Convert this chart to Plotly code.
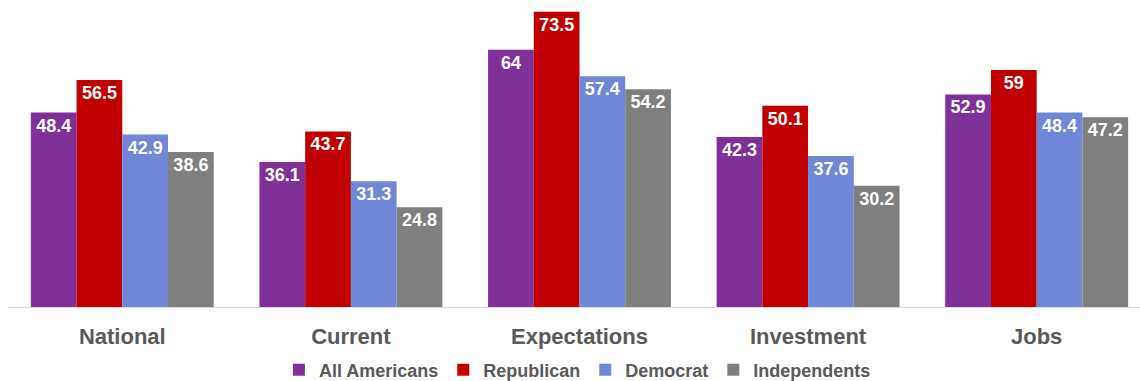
import plotly.graph_objects as go

categories = ["National", "Current", "Expectations", "Investment", "Jobs"]
all_americans = [48.4, 36.1, 64, 42.3, 52.9]
republican = [56.5, 43.7, 73.5, 50.1, 59]
democrat = [42.9, 31.3, 57.4, 37.6, 48.4]
independents = [38.6, 24.8, 54.2, 30.2, 47.2]

series = [
    ("All Americans", all_americans, "#7F3199"),
    ("Republican", republican, "#C00000"),
    ("Democrat", democrat, "#6F87D6"),
    ("Independents", independents, "#7F7F7F"),
]

FONT = "Arial, 'Liberation Sans', sans-serif"

fig = go.Figure()
for name, vals, color in series:
    fig.add_trace(go.Bar(
        name=name, x=categories, y=vals,
        marker=dict(color=color, line=dict(width=0)),
        texttemplate="%{y}", textposition="inside",
        insidetextanchor="end", textangle=0,
        textfont=dict(color="white", size=18, family=FONT, weight="bold"),
        hoverinfo="skip",
    ))

fig.update_layout(
    width=1140, height=381,
    margin=dict(l=8, r=0, t=0, b=74, autoexpand=False),
    barmode="group", bargap=0.2, bargroupgap=0,
    paper_bgcolor="white", plot_bgcolor="white",
    font=dict(family=FONT, color="#595959"),
    showlegend=True,
    legend=dict(
        orientation="h", x=0.503, xanchor="center",
        yref="container", y=0.029, yanchor="middle",
        font=dict(size=18, color="#595959", family=FONT, weight="bold"),
        itemwidth=30, tracegroupgap=0, bgcolor="rgba(0,0,0,0)",
    ),
)
fig.update_xaxes(
    range=[-0.5, 4.452], showline=True, linecolor="#D9D9D9", linewidth=1,
    showgrid=False, zeroline=False, ticks="", ticklabelstandoff=10,
    automargin=False,
    tickfont=dict(size=22, color="#595959", family=FONT, weight="bold"),
)
fig.update_yaxes(range=[0, 76.4], visible=False, showgrid=False, zeroline=False,
                 automargin=False)

fig.write_html("out.html")
